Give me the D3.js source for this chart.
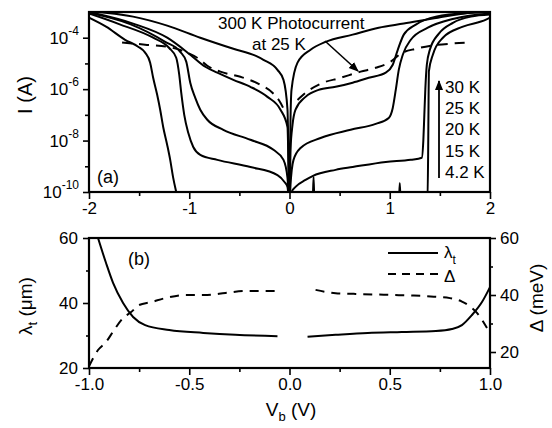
<!DOCTYPE html>
<html>
<head>
<meta charset="utf-8">
<script src="https://cdn.jsdelivr.net/npm/d3@7/dist/d3.min.js"></script>
<style>
body { margin: 0; background: #fff; }
text { font-family: "Liberation Sans", Arial, sans-serif; fill: #000; }
</style>
</head>
<body>
<svg width="552" height="428"></svg>
<script>
// panel (a): dark current curves, [V_b (V), log10 I (A)]
var temps = ["30 K", "25 K", "20 K", "15 K", "4.2 K"];

var iv30 = [[-2.0,-2.97],[-1.56,-3.18],[-1.22,-3.53],[-0.89,-4.0],[-0.56,-4.43],[-0.34,-4.70],[-0.26,-4.86],
  [-0.12,-5.25],[-0.06,-5.64],[-0.02,-6.80],[0,-10.5],[0.01,-7.19],[0.02,-6.03],[0.08,-4.97],[0.21,-4.47],
  [0.36,-4.16],[0.63,-3.88],[0.89,-3.61],[1.14,-3.45],[1.48,-3.22],[1.81,-3.03],[2.0,-2.99]];

var iv25 = [[-2.0,-3.0],[-1.56,-3.45],[-1.22,-4.0],[-0.99,-4.66],[-0.84,-5.13],[-0.72,-5.36],[-0.56,-5.64],
  [-0.39,-5.91],[-0.22,-6.30],[-0.09,-6.80],[-0.02,-7.47],[0,-10.5],[0.01,-8.36],[0.03,-7.39],[0.06,-6.80],
  [0.16,-6.30],[0.29,-6.03],[0.46,-5.91],[0.63,-5.75],[0.79,-5.56],[0.96,-5.36],[1.03,-5.05],[1.08,-4.47],
  [1.14,-3.88],[1.26,-3.49],[1.46,-3.18],[1.81,-3.03],[2.0,-3.0]];

var iv20 = [[-2.0,-3.03],[-1.59,-3.47],[-1.24,-4.16],[-1.09,-4.55],[-1.03,-4.93],[-0.99,-5.75],[-0.94,-6.34],
  [-0.89,-6.80],[-0.82,-7.19],[-0.66,-7.58],[-0.39,-7.97],[-0.16,-8.36],[-0.06,-8.75],[-0.02,-9.45],[0,-10.5],
  [0.01,-9.73],[0.04,-8.75],[0.11,-8.29],[0.31,-7.90],[0.61,-7.58],[0.86,-7.35],[0.99,-7.12],[1.03,-6.73],
  [1.06,-6.03],[1.09,-5.25],[1.13,-4.66],[1.21,-4.08],[1.38,-3.61],[1.64,-3.26],[2.0,-3.06]];

var iv15 = [[-2.0,-3.06],[-1.70,-3.47],[-1.36,-4.0],[-1.20,-4.40],[-1.13,-4.78],[-1.10,-5.44],[-1.08,-6.14],
  [-1.05,-7.0],[-1.01,-7.70],[-0.96,-8.25],[-0.89,-8.56],[-0.72,-8.75],[-0.39,-9.03],[-0.12,-9.34],[-0.05,-9.61],
  [-0.02,-9.80],[0,-10.5],[0.02,-10.0],[0.06,-9.80],[0.16,-9.53],[0.23,-9.38],[0.46,-9.14],[0.63,-9.03],
  [0.96,-8.83],[1.21,-8.75],[1.32,-8.67],[1.335,-8.0],[1.345,-7.0],[1.355,-6.0],[1.37,-5.05],[1.40,-4.47],
  [1.49,-3.84],[1.63,-3.42],[1.81,-3.18],[2.0,-3.10]];

var iv4 = [[-2.0,-3.22],[-1.83,-3.57],[-1.64,-4.08],[-1.51,-4.35],[-1.44,-4.58],[-1.39,-4.97],[-1.36,-5.56],
  [-1.32,-6.22],[-1.29,-6.80],[-1.26,-7.47],[-1.22,-8.17],[-1.19,-8.75],[-1.16,-9.45],[-1.13,-10.0],[-1.10,-10.5],
  [0.20,-10.5],[0.23,-10.5],[0.24,-9.42],[0.25,-10.5],[1.09,-10.5],[1.10,-9.65],[1.11,-10.5],[1.375,-10.5],
  [1.383,-8.5],[1.387,-6.5],[1.39,-5.32],[1.43,-4.66],[1.53,-4.0],[1.73,-3.57],[1.96,-3.30],[2.0,-3.22]];

// 300 K photocurrent at 25 K (dashed), two branches
var photoL = [[-1.67,-4.19],[-1.44,-4.27],[-1.22,-4.35],[-1.04,-4.55],[-0.89,-4.86],[-0.82,-5.09],[-0.69,-5.32],
  [-0.49,-5.52],[-0.29,-5.83],[-0.17,-6.14],[-0.09,-6.53],[-0.05,-6.84]];
var photoR = [[0.08,-6.42],[0.16,-6.14],[0.31,-5.79],[0.51,-5.56],[0.71,-5.32],[0.86,-5.17],[1.01,-4.93],
  [1.11,-4.62],[1.26,-4.43],[1.41,-4.31],[1.61,-4.23],[1.78,-4.19]];

// panel (b): cutoff wavelength (um) and activation energy (meV) vs V_b
var lambdaL = [[-0.955,60],[-0.915,52.3],[-0.88,46.2],[-0.83,40.0],[-0.78,35.7],[-0.72,33.2],[-0.60,31.7],
  [-0.43,30.8],[-0.27,30.2],[-0.06,29.8]];
var lambdaR = [[0.09,29.6],[0.23,30.2],[0.39,30.8],[0.56,31.1],[0.73,31.4],[0.81,32.0],[0.86,33.2],
  [0.91,36.3],[0.96,40.3],[1.0,44.9]];
var deltaL = [[-1.0,15.0],[-0.955,20.7],[-0.915,23.5],[-0.875,27.7],[-0.83,31.9],[-0.79,34.0],[-0.75,36.5],
  [-0.69,37.5],[-0.62,38.9],[-0.52,40.0],[-0.41,40.0],[-0.32,40.7],[-0.22,41.4],[-0.12,41.4],[-0.06,41.4]];
var deltaR = [[0.13,41.8],[0.18,41.1],[0.23,40.6],[0.32,40.4],[0.42,40.2],[0.52,40.0],[0.62,39.8],[0.72,39.4],
  [0.80,38.9],[0.86,37.7],[0.90,36.0],[0.935,33.7],[0.985,28.4]];

var xTicksA = [-2, -1, 0, 1, 2];
var xMinorA = [-1.5, -0.5, 0.5, 1.5];
var yTicksA = [1e-10, 1e-8, 1e-6, 1e-4];
var yMinorA = [1e-9, 1e-7, 1e-5];
var xTicksB = [-1, -0.5, 0, 0.5, 1];
var xMinorB = [-0.75, -0.25, 0.25, 0.75];
var yTicksB = [20, 40, 60];
var yMinorB = [30, 50];

var svg = d3.select("svg");

var xa = d3.scaleLinear().domain([-2, 2]).range([89, 490]);
var ya = d3.scaleLog().domain([1e-10, 1e-3]).range([192, 12]);
var xb = d3.scaleLinear().domain([-1, 1]).range([89, 490]);
var yl = d3.scaleLinear().domain([20, 60]).range([368, 238]);
var yr = d3.scaleLinear().domain([20, 60]).range([352, 238]);

var defs = svg.append("defs");
defs.append("clipPath").attr("id", "clipA")
  .append("rect").attr("x", 89).attr("y", 12).attr("width", 401).attr("height", 180);
defs.append("clipPath").attr("id", "clipB")
  .append("rect").attr("x", 89).attr("y", 238).attr("width", 401).attr("height", 130);
defs.append("marker").attr("id", "head")
  .attr("viewBox", "0 0 10 10").attr("refX", 9).attr("refY", 5)
  .attr("markerWidth", 10).attr("markerHeight", 10).attr("markerUnits", "userSpaceOnUse")
  .attr("orient", "auto")
  .append("path").attr("d", "M0,1L10,5L0,9Z").attr("fill", "#000");

function styleAxis(g) {
  g.select(".domain").remove();
  g.selectAll(".tick line").attr("stroke-width", 1.6);
  g.selectAll("text").style("font-size", "17px");
}

// ---- panel (a) ----
var lineA = d3.line()
  .x(function(d) { return xa(d[0]); })
  .y(function(d) { return ya(Math.pow(10, d[1])); })
  .curve(d3.curveMonotoneX);

var plotA = svg.append("g").attr("clip-path", "url(#clipA)");
[iv30, iv25, iv20, iv15, iv4].forEach(function(s) {
  plotA.append("path").attr("d", lineA(s))
    .attr("fill", "none").attr("stroke", "#000").attr("stroke-width", 2);
});
[photoL, photoR].forEach(function(s) {
  plotA.append("path").attr("d", lineA(s))
    .attr("fill", "none").attr("stroke", "#000").attr("stroke-width", 2)
    .attr("stroke-dasharray", "10,7");
});

svg.append("g").attr("transform", "translate(0,192)")
  .call(d3.axisBottom(xa).tickValues(xTicksA).tickSize(7).tickSizeOuter(0).tickPadding(3)
    .tickFormat(function(d) { return d < 0 ? "-" + Math.abs(d) : d; }))
  .call(styleAxis);
svg.append("g").attr("transform", "translate(0,192)")
  .call(d3.axisBottom(xa).tickValues(xMinorA).tickSize(4).tickFormat(""))
  .call(styleAxis);

var gya = svg.append("g").attr("transform", "translate(89,0)")
  .call(d3.axisLeft(ya).tickValues(yTicksA).tickSize(6).tickSizeOuter(0).tickPadding(4))
  .call(styleAxis);
gya.selectAll(".tick text").text(null).each(function(d) {
  var t = d3.select(this);
  t.append("tspan").text("10");
  t.append("tspan").attr("dy", -9).style("font-size", "12px").text(Math.round(Math.log10(d)));
});
svg.append("g").attr("transform", "translate(89,0)")
  .call(d3.axisLeft(ya).tickValues(yMinorA).tickSize(4).tickFormat(""))
  .call(styleAxis);

svg.append("rect").attr("x", 89).attr("y", 12).attr("width", 401).attr("height", 180)
  .attr("fill", "none").attr("stroke", "#000").attr("stroke-width", 2.2);

svg.append("text").attr("transform", "translate(32,95) rotate(-90)")
  .attr("text-anchor", "middle").style("font-size", "20px").text("I (A)");

svg.append("text").attr("x", 97).attr("y", 183).style("font-size", "18px").text("(a)");
svg.append("text").attr("x", 218).attr("y", 29).style("font-size", "17px").text("300 K Photocurrent");
svg.append("text").attr("x", 252).attr("y", 50).style("font-size", "17px").text("at 25 K");
svg.append("line").attr("x1", 325).attr("y1", 41).attr("x2", 358).attr("y2", 71)
  .attr("stroke", "#000").attr("stroke-width", 1.6).attr("marker-end", "url(#head)");

svg.append("line").attr("x1", 439).attr("y1", 178).attr("x2", 439).attr("y2", 81)
  .attr("stroke", "#000").attr("stroke-width", 1.8).attr("marker-end", "url(#head)");
svg.selectAll(".temp").data(temps).enter().append("text")
  .attr("class", "temp")
  .attr("x", 445)
  .attr("y", function(d, i) { return 93 + i * 21.2; })
  .style("font-size", "17px")
  .text(function(d) { return d; });

// ---- panel (b) ----
var lineL = d3.line()
  .x(function(d) { return xb(d[0]); })
  .y(function(d) { return yl(d[1]); })
  .curve(d3.curveMonotoneX);
var lineR = d3.line()
  .x(function(d) { return xb(d[0]); })
  .y(function(d) { return yr(d[1]); })
  .curve(d3.curveMonotoneX);

var plotB = svg.append("g").attr("clip-path", "url(#clipB)");
[lambdaL, lambdaR].forEach(function(s) {
  plotB.append("path").attr("d", lineL(s))
    .attr("fill", "none").attr("stroke", "#000").attr("stroke-width", 2);
});
[deltaL, deltaR].forEach(function(s) {
  plotB.append("path").attr("d", lineR(s))
    .attr("fill", "none").attr("stroke", "#000").attr("stroke-width", 2)
    .attr("stroke-dasharray", "9,7");
});

svg.append("g").attr("transform", "translate(0,368)")
  .call(d3.axisBottom(xb).tickValues(xTicksB).tickSize(7).tickSizeOuter(0).tickPadding(3)
    .tickFormat(function(d) { return (d < 0 ? "-" : "") + Math.abs(d).toFixed(1); }))
  .call(styleAxis);
svg.append("g").attr("transform", "translate(0,368)")
  .call(d3.axisBottom(xb).tickValues(xMinorB).tickSize(4).tickFormat(""))
  .call(styleAxis);

svg.append("g").attr("transform", "translate(89,0)")
  .call(d3.axisLeft(yl).tickValues(yTicksB).tickSize(6).tickSizeOuter(0).tickPadding(5))
  .call(styleAxis);
svg.append("g").attr("transform", "translate(89,0)")
  .call(d3.axisLeft(yl).tickValues(yMinorB).tickSize(3).tickFormat(""))
  .call(styleAxis);

svg.append("g").attr("transform", "translate(490,0)")
  .call(d3.axisRight(yr).tickValues(yTicksB).tickSize(6).tickSizeOuter(0).tickPadding(4))
  .call(styleAxis);
svg.append("g").attr("transform", "translate(490,0)")
  .call(d3.axisRight(yr).tickValues(yMinorB).tickSize(3).tickFormat(""))
  .call(styleAxis);

svg.append("rect").attr("x", 89).attr("y", 238).attr("width", 401).attr("height", 130)
  .attr("fill", "none").attr("stroke", "#000").attr("stroke-width", 2.2);

svg.append("text").attr("x", 128).attr("y", 265).style("font-size", "18px").text("(b)");

var tl = svg.append("text").attr("transform", "translate(32,306) rotate(-90)")
  .attr("text-anchor", "middle").style("font-size", "19px");
tl.append("tspan").text("\u03bb");
tl.append("tspan").attr("dy", 5).style("font-size", "13px").text("t");
tl.append("tspan").attr("dy", -5).text(" (\u03bcm)");

svg.append("text").attr("transform", "translate(543,298) rotate(-90)")
  .attr("text-anchor", "middle").style("font-size", "19px").text("\u0394 (meV)");

var tv = svg.append("text").attr("x", 291).attr("y", 416)
  .attr("text-anchor", "middle").style("font-size", "19px");
tv.append("tspan").text("V");
tv.append("tspan").attr("dy", 5).style("font-size", "13px").text("b");
tv.append("tspan").attr("dy", -5).text(" (V)");

// legend (b)
svg.append("line").attr("x1", 388).attr("x2", 438).attr("y1", 253).attr("y2", 253)
  .attr("stroke", "#000").attr("stroke-width", 2);
svg.append("line").attr("x1", 388).attr("x2", 438).attr("y1", 274).attr("y2", 274)
  .attr("stroke", "#000").attr("stroke-width", 2).attr("stroke-dasharray", "8,6");
var lg = svg.append("text").attr("x", 444).attr("y", 258).style("font-size", "17px");
lg.append("tspan").text("\u03bb");
lg.append("tspan").attr("dy", 6).style("font-size", "12px").text("t");
svg.append("text").attr("x", 444).attr("y", 282).style("font-size", "17px").text("\u0394");
</script>
</body>
</html>
